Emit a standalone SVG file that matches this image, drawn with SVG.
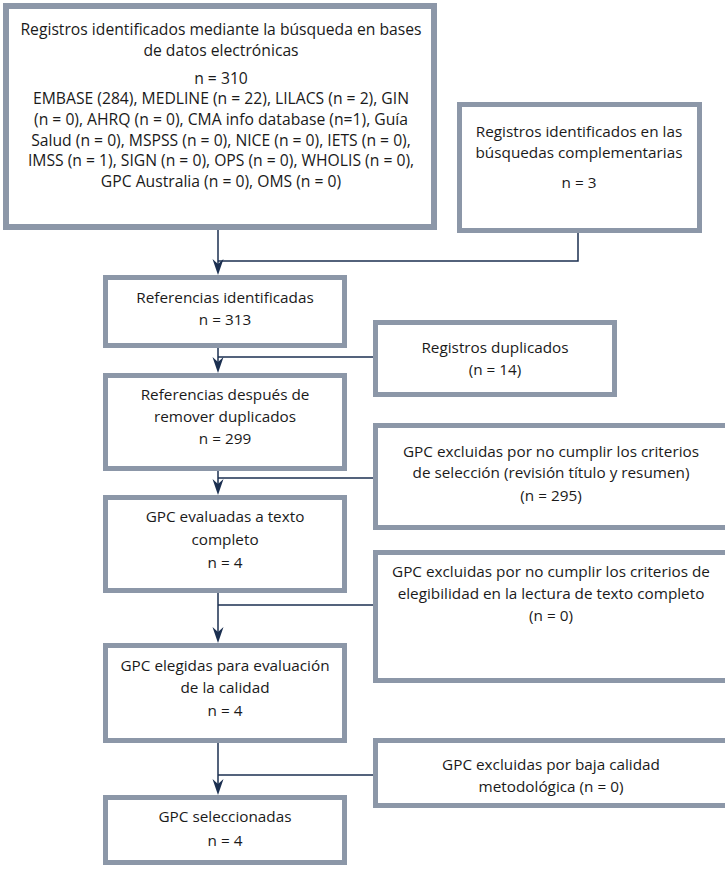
<svg xmlns="http://www.w3.org/2000/svg" width="725" height="869" viewBox="0 0 725 869">
<defs>
<style>
.box{fill:#ffffff;stroke:#8c97a8;stroke-width:5}
.t{font-family:"Open Sans","Noto Sans","Liberation Sans",sans-serif;font-size:15.3px;fill:#1a1a1a;text-anchor:middle}
.b{font-size:15.7px}
.c{fill:none;stroke:#1b2f50;stroke-width:1.5}
.a{fill:#1b2f50}
</style>
</defs>
<rect width="725" height="869" fill="#ffffff"/>
<g id="connectors">
<path class="c" d="M218,230 V268"/>
<path class="c" d="M578,233 V261 H218"/>
<path class="c" d="M218,348 V366"/>
<path class="c" d="M373,357 H218"/>
<path class="c" d="M218,471 V488"/>
<path class="c" d="M373,478 H218"/>
<path class="c" d="M218,593 V636"/>
<path class="c" d="M373,605 H218"/>
<path class="c" d="M218,743 V788"/>
<path class="c" d="M373,775 H218"/>
<path class="a" d="M212.5,259 L218,275 L223.5,259 L218,264 Z"/>
<path class="a" d="M212.5,357 L218,373 L223.5,357 L218,362 Z"/>
<path class="a" d="M212.5,479 L218,495 L223.5,479 L218,484 Z"/>
<path class="a" d="M212.5,627 L218,643 L223.5,627 L218,632 Z"/>
<path class="a" d="M212.5,779 L218,795 L223.5,779 L218,784 Z"/>
</g>
<g id="n1">
<rect class="box" x="6" y="6" width="428" height="221" style="stroke-width:6"/>
<text class="t b" x="221" y="35">Registros identificados mediante la búsqueda en bases</text>
<text class="t b" x="221" y="56">de datos electrónicas</text>
<text class="t b" x="221" y="84">n = 310</text>
<text class="t b" x="221" y="104">EMBASE (284), MEDLINE (n = 22), LILACS (n = 2), GIN</text>
<text class="t b" x="221" y="125">(n = 0), AHRQ (n = 0), CMA info database (n=1), Guía</text>
<text class="t b" x="221" y="146">Salud (n = 0), MSPSS (n = 0), NICE (n = 0), IETS (n = 0),</text>
<text class="t b" x="221" y="166">IMSS (n = 1), SIGN (n = 0), OPS (n = 0), WHOLIS (n = 0),</text>
<text class="t b" x="221" y="187">GPC Australia (n = 0), OMS (n = 0)</text>
</g>
<g id="n2">
<rect class="box" x="459.5" y="104.5" width="240" height="126"/>
<text class="t" x="579" y="137">Registros identificados en las</text>
<text class="t" x="579" y="158">búsquedas complementarias</text>
<text class="t" x="579" y="188">n = 3</text>
</g>
<g id="n3">
<rect class="box" x="105.5" y="277.5" width="239" height="68"/>
<text class="t" x="225" y="303">Referencias identificadas</text>
<text class="t" x="225" y="325">n = 313</text>
</g>
<g id="n4">
<rect class="box" x="375.5" y="322.5" width="239" height="72"/>
<text class="t" x="495" y="353">Registros duplicados</text>
<text class="t" x="495" y="375">(n = 14)</text>
</g>
<g id="n5">
<rect class="box" x="105.5" y="375.5" width="239" height="93"/>
<text class="t" x="225" y="400">Referencias después de</text>
<text class="t" x="225" y="422">remover duplicados</text>
<text class="t" x="225" y="444">n = 299</text>
</g>
<g id="n6">
<rect class="box" x="375.5" y="425.5" width="360" height="102"/>
<text class="t" x="551" y="457">GPC excluidas por no cumplir los criterios</text>
<text class="t" x="551" y="478">de selección (revisión título y resumen)</text>
<text class="t" x="551" y="501">(n = 295)</text>
</g>
<g id="n7">
<rect class="box" x="105.5" y="497.5" width="239" height="93"/>
<text class="t" x="225" y="522">GPC evaluadas a texto</text>
<text class="t" x="225" y="545">completo</text>
<text class="t" x="225" y="568">n = 4</text>
</g>
<g id="n8">
<rect class="box" x="375.5" y="552.5" width="360" height="128"/>
<text class="t" x="551" y="577">GPC excluidas por no cumplir los criterios de</text>
<text class="t" x="551" y="599">elegibilidad en la lectura de texto completo</text>
<text class="t" x="551" y="621">(n = 0)</text>
</g>
<g id="n9">
<rect class="box" x="105.5" y="645.5" width="239" height="95"/>
<text class="t" x="225" y="671">GPC elegidas para evaluación</text>
<text class="t" x="225" y="693">de la calidad</text>
<text class="t" x="225" y="716">n = 4</text>
</g>
<g id="n10">
<rect class="box" x="375.5" y="740.5" width="360" height="65"/>
<text class="t" x="551" y="770">GPC excluidas por baja calidad</text>
<text class="t" x="551" y="792">metodológica (n = 0)</text>
</g>
<g id="n11">
<rect class="box" x="105.5" y="797.5" width="239" height="65"/>
<text class="t" x="225" y="822">GPC seleccionadas</text>
<text class="t" x="225" y="846">n = 4</text>
</g>
</svg>
